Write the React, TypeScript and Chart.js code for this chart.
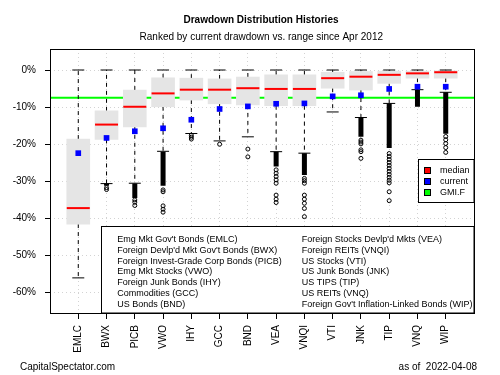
import React, { useEffect, useRef } from 'react';
import { Chart, registerables } from 'chart.js';

Chart.register(...registerables);

const categories = ['EMLC', 'BWX', 'PICB', 'VWO', 'IHY', 'GCC', 'BND', 'VEA', 'VNQI', 'VTI', 'JNK', 'TIP', 'VNQ', 'WIP'];
const upperWhisker = [0, 0, 0, 0, 0, 0, 0, 0, 0, 0, 0, 0, 0, 0];
const boxTop = [-18.6, -11.0, -5.4, -2.1, -2.2, -2.4, -1.9, -1.3, -1.3, -0.6, -0.4, -0.3, -0.3, -0.2];
const medians = [-37.2, -14.7, -9.9, -6.3, -5.3, -5.3, -4.9, -5.1, -5.1, -2.2, -1.8, -1.3, -0.9, -0.6];
const boxBottom = [-41.5, -18.7, -15.3, -9.9, -8.1, -9.1, -9.4, -9.6, -9.6, -4.9, -5.4, -3.6, -2.2, -2.2];
const lowerWhisker = [-56.0, -30.6, -30.5, -21.9, -17.1, -19.1, -18.0, -22.0, -22.4, -11.3, -12.8, -9.0, -5.3, -6.0];
const current = [-22.4, -18.3, -16.5, -15.7, -13.4, -10.5, -9.8, -9.1, -9.0, -7.1, -6.8, -5.1, -4.5, -4.5];
const gmifLevel = -7.5;

// Dense runs of overlapping outliers (drawn as solid black columns)
const denseTop: (number | null)[] = [null, -30.6, -30.6, -22.0, null, null, null, -22.0, -22.4, null, -12.8, -9.0, -5.3, -6.0];
const denseBottom: (number | null)[] = [null, -31.2, -34.5, -31.2, null, null, null, -26.0, -28.3, null, -18.0, -21.0, -9.9, -17.2];

const outliers: number[][] = [
  [],
  [-31.7, -32.2],
  [-35.0, -35.6, -36.5],
  [-32.3, -32.8, -36.6, -37.5, -38.3],
  [-17.6, -18.1, -18.6],
  [-20.0],
  [-21.3, -23.4],
  [-26.9, -27.8, -28.7, -29.6, -30.5, -33.7, -34.8, -35.7],
  [-29.2, -29.8, -30.5, -33.7, -34.8, -35.9, -37.3, -39.5],
  [],
  [-18.9, -19.4, -19.9, -21.5, -22.0, -23.8],
  [-22.5, -23.3, -24.1, -24.9, -25.7, -26.5, -27.3, -28.1, -28.9, -29.7, -30.4, -32.8, -35.2],
  [],
  [-17.9, -18.8, -19.8, -20.9, -22.2],
];

const yTicks = [-60, -50, -40, -30, -20, -10, 0];

const titleText = 'Drawdown Distribution Histories';
const subtitleText = 'Ranked by current drawdown vs. range since Apr 2012';
const footerLeft = 'CapitalSpectator.com';
const footerRight = 'as of  2022-04-08';

const legendLeft = [
  "Emg Mkt Gov't Bonds (EMLC)",
  "Foreign Devlp'd Mkt Gov't Bonds (BWX)",
  'Foreign Invest-Grade Corp Bonds (PICB)',
  'Emg Mkt Stocks (VWO)',
  'Foreign Junk Bonds (IHY)',
  'Commodities (GCC)',
  'US Bonds (BND)',
];
const legendRight = [
  "Foreign Stocks Devlp'd Mkts (VEA)",
  'Foreign REITs (VNQI)',
  'US Stocks (VTI)',
  'US Junk Bonds (JNK)',
  'US TIPS (TIP)',
  'US REITs (VNQ)',
  "Foreign Gov't Inflation-Linked Bonds (WIP)",
];
const keyLabels = ['median', 'current', 'GMI.F'];
const keyColors = ['#ff0000', '#0000ff', '#00ff00'];

const FONT = '"Liberation Sans", Arial, sans-serif';

const decorPlugin = {
  id: 'decor',
  beforeDraw(chart: any) {
    const { ctx } = chart;
    ctx.save();
    ctx.fillStyle = '#ffffff';
    ctx.fillRect(0, 0, chart.width, chart.height);
    ctx.restore();
  },
  afterDatasetsDraw(chart: any) {
    const { ctx, chartArea: a } = chart;
    ctx.save();
    // bottom ticker legend
    ctx.fillStyle = '#ffffff';
    ctx.strokeStyle = '#000000';
    ctx.lineWidth = 1;
    ctx.fillRect(101.5, 226.5, a.right - 101.5, a.bottom - 226.5);
    ctx.strokeRect(101.5, 226.5, a.right - 101.5, a.bottom - 226.5);
    ctx.fillStyle = '#000000';
    ctx.font = `9px ${FONT}`;
    ctx.textBaseline = 'middle';
    ctx.textAlign = 'left';
    legendLeft.forEach((t, i) => ctx.fillText(t, 117.3, 239.5 + i * 10.8));
    legendRight.forEach((t, i) => ctx.fillText(t, 301.7, 239.5 + i * 10.8));

    // key legend
    ctx.fillStyle = '#ffffff';
    ctx.fillRect(418.5, 159.5, a.right - 418.5, 43);
    ctx.strokeRect(418.5, 159.5, a.right - 418.5, 43);
    keyLabels.forEach((t, i) => {
      const yc = 170.5 + i * 11;
      ctx.fillStyle = keyColors[i];
      ctx.fillRect(424.5, yc - 3, 6, 6);
      ctx.strokeStyle = '#000000';
      ctx.strokeRect(424.5, yc - 3, 6, 6);
      ctx.fillStyle = '#000000';
      ctx.fillText(t, 440, yc);
    });

    // plot frame
    ctx.strokeStyle = '#000000';
    ctx.strokeRect(Math.round(a.left) + 0.5, Math.round(a.top) + 0.5, Math.round(a.right - a.left), Math.round(a.bottom - a.top));

    // titles and footer
    ctx.fillStyle = '#000000';
    ctx.textAlign = 'center';
    ctx.font = `bold 10px ${FONT}`;
    ctx.fillText(titleText, 261, 20);
    ctx.font = `10px ${FONT}`;
    ctx.fillText(subtitleText, 261.3, 37.5);
    ctx.textAlign = 'left';
    ctx.fillText(footerLeft, 20, 367);
    ctx.textAlign = 'right';
    ctx.fillText(footerRight, 477, 367);
    ctx.restore();
  },
};

export default function App() {
  const ref = useRef<HTMLCanvasElement | null>(null);

  useEffect(() => {
    document.body.style.margin = '0';
    const canvas = ref.current;
    if (!canvas) return;

    const xs = categories.map((_, i) => i + 1);

    const whiskerData: any[] = [];
    xs.forEach((x, i) => {
      whiskerData.push({ x, y: boxTop[i] }, { x, y: upperWhisker[i] }, { x, y: null });
      whiskerData.push({ x, y: boxBottom[i] }, { x, y: lowerWhisker[i] }, { x, y: null });
    });
    const capData: any[] = [];
    xs.forEach((x, i) => {
      capData.push({ x, y: upperWhisker[i] }, { x, y: lowerWhisker[i] });
    });
    const denseData: any[] = [];
    xs.forEach((x, i) => {
      if (denseTop[i] !== null && denseBottom[i] !== null) {
        denseData.push({ x, y: denseTop[i] }, { x, y: denseBottom[i] }, { x, y: null });
      }
    });
    const outlierData: any[] = [];
    xs.forEach((x, i) => outliers[i].forEach((v) => outlierData.push({ x, y: v })));

    const chart = new Chart(canvas, {
      type: 'bar',
      data: {
        datasets: [
          {
            type: 'line',
            label: 'GMI.F',
            data: [{ x: 0, y: gmifLevel }, { x: 15, y: gmifLevel }],
            borderColor: '#00ff00',
            borderWidth: 2,
            pointRadius: 0,
            order: 10,
          } as any,
          {
            type: 'line',
            label: 'whiskers',
            data: whiskerData,
            borderColor: '#000000',
            borderWidth: 1,
            borderDash: [4, 4],
            pointRadius: 0,
            spanGaps: false,
            order: 9,
          } as any,
          {
            type: 'bar',
            label: 'boxes',
            data: xs.map((x, i) => ({ x, y: [boxBottom[i], boxTop[i]] })),
            backgroundColor: '#e5e5e5',
            borderWidth: 0,
            barThickness: 23,
            order: 8,
          } as any,
          {
            type: 'scatter',
            label: 'caps',
            data: capData,
            pointStyle: 'line',
            pointRadius: 6,
            pointBorderColor: '#000000',
            borderColor: '#000000',
            pointBorderWidth: 1,
            order: 7,
          } as any,
          {
            type: 'line',
            label: 'dense',
            data: denseData,
            borderColor: '#000000',
            borderWidth: 5,
            pointRadius: 0,
            spanGaps: false,
            order: 6,
          } as any,
          {
            type: 'scatter',
            label: 'outliers',
            data: outlierData,
            pointStyle: 'circle',
            pointRadius: 2,
            pointBorderColor: '#000000',
            pointBackgroundColor: 'rgba(0,0,0,0)',
            borderColor: '#000000',
            backgroundColor: 'rgba(0,0,0,0)',
            pointBorderWidth: 1,
            order: 5,
          } as any,
          {
            type: 'scatter',
            label: 'median',
            data: xs.map((x, i) => ({ x, y: medians[i] })),
            pointStyle: 'line',
            pointRadius: 11.5,
            pointBorderColor: '#ff0000',
            borderColor: '#ff0000',
            pointBorderWidth: 2,
            order: 4,
          } as any,
          {
            type: 'scatter',
            label: 'current',
            data: xs.map((x, i) => ({ x, y: current[i] })),
            pointStyle: 'rect',
            pointRadius: 4,
            pointBackgroundColor: '#0000ff',
            backgroundColor: '#0000ff',
            pointBorderColor: '#0000ff',
            borderColor: '#0000ff',
            pointBorderWidth: 0,
            order: 3,
          } as any,
        ],
      },
      options: {
        animation: false,
        responsive: false,
        devicePixelRatio: 1,
        events: [],
        layout: { padding: { top: 49, right: 26, left: 0, bottom: 0 } },
        plugins: {
          legend: { display: false },
          title: { display: false },
          tooltip: { enabled: false },
        },
        scales: {
          x: {
            type: 'linear',
            min: 0,
            max: 15,
            offset: false,
            afterBuildTicks: (scale: any) => {
              scale.ticks = xs.map((v) => ({ value: v }));
            },
            afterFit: (scale: any) => {
              scale.height = 62;
            },
            ticks: {
              autoSkip: false,
              minRotation: 90,
              maxRotation: 90,
              padding: 6,
              color: '#000000',
              font: { family: FONT, size: 10 },
              callback: (v: any) => categories[Math.round(Number(v)) - 1] ?? '',
            },
            grid: {
              offset: false,
              color: '#d3d3d3',
              lineWidth: 1,
              drawTicks: true,
              tickLength: 6,
              tickColor: '#000000',
              tickWidth: 1,
            },
            border: { display: false, dash: [1, 3] },
          } as any,
          y: {
            type: 'linear',
            min: -65.46,
            max: 5.66,
            afterBuildTicks: (scale: any) => {
              scale.ticks = yTicks.map((v) => ({ value: v }));
            },
            afterFit: (scale: any) => {
              scale.width = 50;
            },
            ticks: {
              padding: 9,
              color: '#000000',
              font: { family: FONT, size: 10 },
              callback: (v: any) => `${v}%`,
            },
            grid: {
              color: '#d3d3d3',
              lineWidth: 1,
              drawTicks: true,
              tickLength: 5,
              tickColor: '#000000',
              tickWidth: 1,
            },
            border: { display: false, dash: [1, 3] },
          } as any,
        },
      } as any,
      plugins: [decorPlugin],
    });

    return () => chart.destroy();
  }, []);

  return (
    <div style={{ width: 500, height: 375 }}>
      <canvas ref={ref} width={500} height={375} style={{ display: 'block', width: 500, height: 375 }} />
    </div>
  );
}
